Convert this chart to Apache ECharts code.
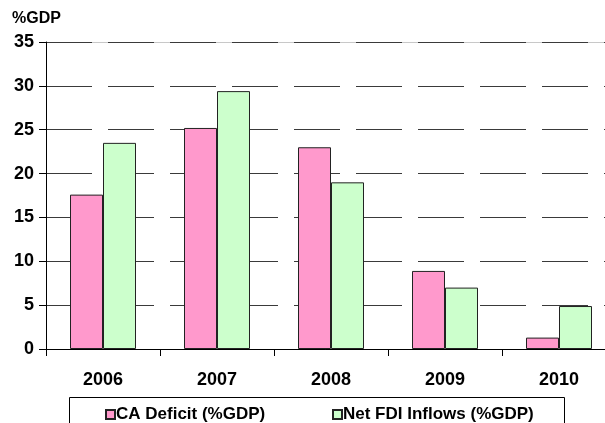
<!DOCTYPE html>
<html><head><meta charset="utf-8">
<script src="https://cdn.jsdelivr.net/npm/echarts@6/dist/echarts.min.js"></script>
<style>html,body{margin:0;padding:0;background:#fff}#c{width:605px;height:423px}</style>
</head><body><div id="c"></div>
<script>
const categories = ['2006','2007','2008','2009','2010'];
const caDeficit = [17.6, 25.2, 23.0, 8.9, 1.3];
const netFdi = [23.5, 29.4, 19.0, 7.0, 4.9];
const yTicks = [0,5,10,15,20,25,30,35];
const seriesNames = ['CA Deficit (%GDP)', 'Net FDI Inflows (%GDP)'];

const FONT = 'Liberation Sans, Arial, sans-serif';
const legendText = { fontFamily: FONT, fontWeight: 'bold', fontSize: 17, color: '#000', padding: [0,0,0,-4] };
const chart = echarts.init(document.getElementById('c'));
chart.setOption({
  animation: false,
  backgroundColor: '#fff',
  title: { text: '%GDP', left: 12, top: 11, padding: 0, textStyle: { fontFamily: FONT, fontWeight: 'bold', fontSize: 16, color: '#000' } },
  grid: { left: 46, top: 42, width: 570, height: 307, containLabel: false, outerBoundsMode: 'none' },
  graphic: [{ type: 'rect', shape: { x: 69.5, y: 397.5, width: 495, height: 60 }, style: { fill: 'none', stroke: '#000', lineWidth: 1 } }],
  legend: [
    { data: [seriesNames[0]], left: 105, top: 406, padding: 0, itemWidth: 9, itemHeight: 9, icon: 'rect', textStyle: legendText },
    { data: [seriesNames[1]], left: 332, top: 406, padding: 0, itemWidth: 9, itemHeight: 9, icon: 'rect', textStyle: legendText }
  ],
  xAxis: [{
    type: 'category', data: categories,
    axisLine: { lineStyle: { color: '#000', width: 1 } },
    axisTick: { show: true, length: 7, lineStyle: { color: '#000' } },
    axisLabel: { fontFamily: FONT, fontWeight: 'bold', fontSize: 18, color: '#000', margin: 22 }
  }, {
    type: 'category', data: categories, position: 'top', z: -1,
    axisLine: { show: true, lineStyle: { color: '#c8c8c8', width: 1 } },
    axisTick: { show: false }, axisLabel: { show: false }
  }],
  yAxis: {
    type: 'value', min: 0, max: 35, interval: 5,
    axisLine: { show: true, lineStyle: { color: '#000', width: 1 } },
    axisTick: { show: true, length: 7, lineStyle: { color: '#000' } },
    axisLabel: { fontFamily: FONT, fontWeight: 'bold', fontSize: 18, color: '#000', margin: 12,
      formatter: v => yTicks.includes(v) ? String(v) : '' },
    splitLine: { show: true, lineStyle: { color: '#3a3a3a', width: 1, type: [46, 16] } }
  },
  series: [
    { name: seriesNames[0], type: 'bar', data: caDeficit, barWidth: 33, barGap: '0%',
      itemStyle: { color: '#FF99CC', borderColor: '#222', borderWidth: 1 } },
    { name: seriesNames[1], type: 'bar', data: netFdi, barWidth: 33, barGap: '0%',
      itemStyle: { color: '#CCFFCC', borderColor: '#222', borderWidth: 1 } }
  ]
});
</script></body></html>
